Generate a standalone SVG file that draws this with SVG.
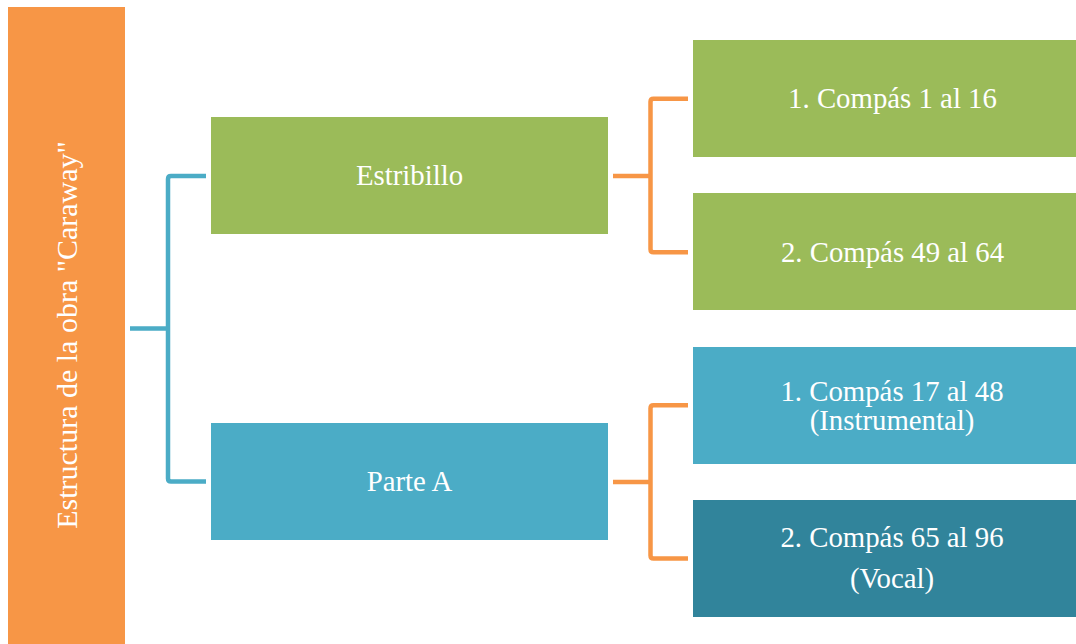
<svg xmlns="http://www.w3.org/2000/svg" width="1076" height="644" viewBox="0 0 1076 644">
<style>
.t{fill:#fff;text-anchor:middle;font-size:28.8px}
.c{fill:none;stroke-width:4.5;stroke-linejoin:round;stroke-linecap:butt}
.teal{stroke:#4BACC6}
.orange{stroke:#F79646}
</style>
<rect width="1076" height="644" fill="#fff"/>
<g font-family="Liberation Serif, Tinos, DejaVu Serif, serif">
<g id="root">
<rect x="8" y="7" width="117" height="640" fill="#F79646"/>
<text class="t" style="font-size:30px" transform="translate(77,335) rotate(-90)">Estructura de la obra "Caraway"</text>
</g>
<g id="connectors">
<path class="c teal" d="M130,328.5 H168 M206,176 H171 Q168,176 168,179 V478.5 Q168,481.5 171,481.5 H206"/>
<path class="c orange" d="M613,176 H650.5 M688,98.8 H653.5 Q650.5,98.8 650.5,101.8 V249.3 Q650.5,252.3 653.5,252.3 H688"/>
<path class="c orange" d="M613,482 H650.5 M688,405.3 H653.5 Q650.5,405.3 650.5,408.3 V555.5 Q650.5,558.5 653.5,558.5 H688"/>
</g>
<g id="estribillo">
<rect x="211" y="117" width="397" height="117" fill="#9BBB59"/>
<text class="t" x="409.5" y="184.5">Estribillo</text>
</g>
<g id="parteA">
<rect x="211" y="423" width="397" height="117" fill="#4BACC6"/>
<text class="t" x="409.5" y="490.5">Parte A</text>
</g>
<g id="e1">
<rect x="693" y="40" width="397" height="117" fill="#9BBB59"/>
<text class="t" x="892.5" y="108.3">1. Compás 1 al 16</text>
</g>
<g id="e2">
<rect x="693" y="193" width="397" height="117" fill="#9BBB59"/>
<text class="t" x="892.5" y="261.5">2. Compás 49 al 64</text>
</g>
<g id="a1">
<rect x="693" y="347" width="397" height="117" fill="#4BACC6"/>
<text class="t" x="892" y="400.7">1. Compás 17 al 48</text>
<text class="t" x="892" y="430">(Instrumental)</text>
</g>
<g id="a2">
<rect x="693" y="500" width="397" height="117" fill="#31849B"/>
<text class="t" x="892" y="546.7">2. Compás 65 al 96</text>
<text class="t" x="892" y="588">(Vocal)</text>
</g>
</g>
</svg>
